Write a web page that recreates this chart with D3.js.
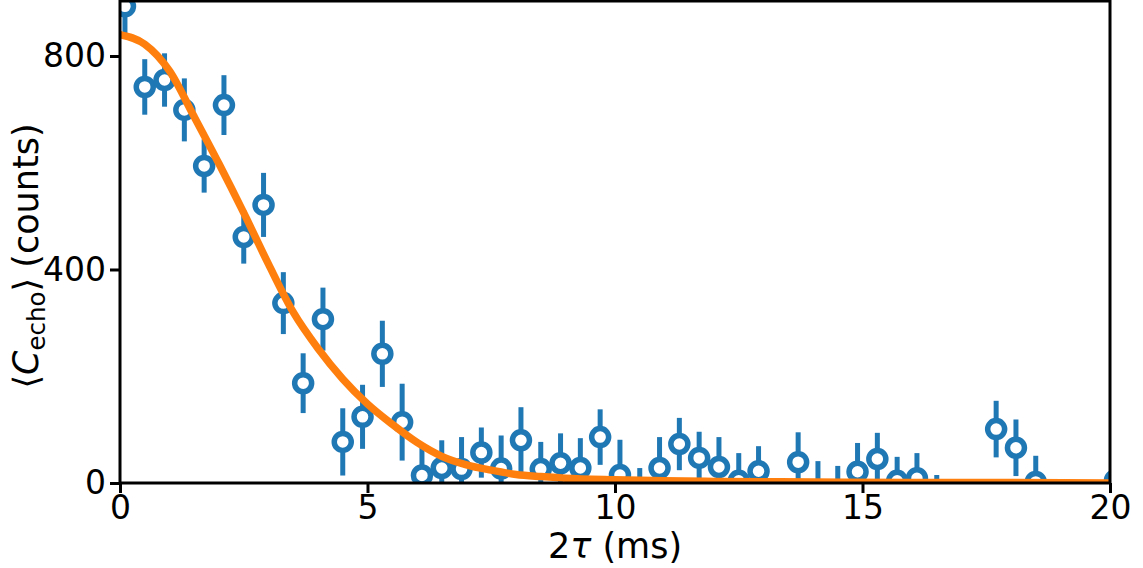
<!DOCTYPE html>
<html><head><meta charset="utf-8">
<script src="https://cdn.jsdelivr.net/npm/d3@7"></script>
<style>body{margin:0;background:#fff}</style>
</head><body><svg id="c" width="1143" height="568"></svg>
<script>
const tauValues = [0.1,0.5,0.9,1.3,1.7,2.1,2.5,2.9,3.3,3.7,4.1,4.5,4.9,5.3,5.7,6.1,6.5,6.9,7.3,7.7,8.1,8.5,8.9,9.3,9.7,10.1,10.5,10.9,11.3,11.7,12.1,12.5,12.9,13.3,13.7,14.1,14.5,14.9,15.3,15.7,16.1,16.5,16.9,17.3,17.7,18.1,18.5,18.9,19.3,19.7,20.1];
const echoCounts = [893,742,755,699,594,708,461,521,337,187,307,77,124,242,114,14,28,26,57,27,80,26,37,28,86,15,-25,28,73,47,30,4,22,-70,39,-20,-25,21,45,4,9,-40,-70,-80,101,66,2,-70,-70,-80,5];
const echoErrors = [52,52,50,59,50,56,50,60,58,56,59,63,60,62,72,52,52,60,47,62,62,51,56,56,52,66,53,58,49,49,56,52,47,50,56,61,57,54,49,45,47,55,50,50,53,53,49,50,50,50,52];
const fitTau = [0,0.5,1,1.5,2,2.5,3,3.5,4,4.5,5,5.5,6,6.5,7,7.5,8,8.5,9,10,11,12,14,16,18,20];
const fitCounts = [840,822,772,686,598,506,410,320,252,195,148,110,76,50,34,24,16,12,9,6,4,3,2,1,1,0];
const xTicks = [0,5,10,15,20];
const yTicks = [0,400,800];

const svg = d3.select("#c");
const L = 120, R = 1110, T = 1, B = 483;
const x = d3.scaleLinear().domain([0,20]).range([L,R]);
const y = d3.scaleLinear().domain([0,903]).range([B,T]);
const blue = "#1f77b4", orange = "#ff7f0e";
const font = "DejaVu Sans, sans-serif";
const fs = 33, lfs = 35;

svg.append("defs").append("clipPath").attr("id","clip")
  .append("rect").attr("x",L).attr("y",T).attr("width",R-L).attr("height",B-T);

const data = tauValues.map((t,i)=>({t, c: echoCounts[i], e: echoErrors[i]}));
const g = svg.append("g").attr("clip-path","url(#clip)");

g.selectAll("line.err").data(data).enter().append("line")
  .attr("x1",d=>x(d.t)).attr("x2",d=>x(d.t))
  .attr("y1",d=>y(d.c-d.e)).attr("y2",d=>y(d.c+d.e))
  .attr("stroke",blue).attr("stroke-width",5);

g.selectAll("circle").data(data).enter().append("circle")
  .attr("cx",d=>x(d.t)).attr("cy",d=>y(d.c)).attr("r",8.5)
  .attr("fill","#fff").attr("stroke",blue).attr("stroke-width",5.5);

const line = d3.line().x(d=>x(d[0])).y(d=>y(d[1])).curve(d3.curveMonotoneX);
g.append("path").datum(fitTau.map((t,i)=>[t,fitCounts[i]]))
  .attr("d",line).attr("fill","none").attr("stroke",orange).attr("stroke-width",7.5);

// axes
const xAxis = d3.axisBottom(x).tickValues(xTicks).tickSize(10).tickPadding(3).tickFormat(d3.format("d"));
const yAxis = d3.axisLeft(y).tickValues(yTicks).tickSize(10).tickPadding(4).tickFormat(d3.format("d"));
const gx = svg.append("g").attr("transform",`translate(0,${B})`).call(xAxis);
const gy = svg.append("g").attr("transform",`translate(${L},0)`).call(yAxis);
[gx,gy].forEach(a=>{
  a.select(".domain").remove();
  a.selectAll(".tick line").attr("stroke","#000").attr("stroke-width",3);
  a.selectAll(".tick text").attr("font-family",font).attr("font-size",fs).attr("fill","#000");
});

// frame
svg.append("rect").attr("x",L).attr("y",T).attr("width",R-L).attr("height",B-T)
  .attr("fill","none").attr("stroke","#000").attr("stroke-width",3);

// labels
const xl = svg.append("text").attr("x",(L+R)/2).attr("y",558).attr("text-anchor","middle")
  .attr("font-family",font).attr("font-size",lfs);
xl.append("tspan").text("2");
xl.append("tspan").attr("font-style","italic").text("τ");
xl.append("tspan").text(" (ms)");

const yl = svg.append("text").attr("transform",`translate(38,${(T+B)/2+14}) rotate(-90)`)
  .attr("text-anchor","middle").attr("font-family",font).attr("font-size",lfs);
yl.append("tspan").text("⟨");
yl.append("tspan").attr("font-style","italic").text("C");
yl.append("tspan").attr("font-size",lfs*0.7).attr("dy",7).text("echo");
yl.append("tspan").attr("dy",-7).text("⟩");
yl.append("tspan").attr("dx",10).text("(counts)");
</script>
</body></html>
